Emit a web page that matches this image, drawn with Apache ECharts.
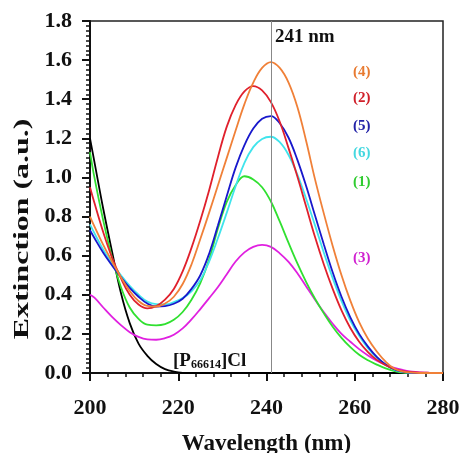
<!DOCTYPE html>
<html><head><meta charset="utf-8">
<script src="https://cdn.jsdelivr.net/npm/echarts@6/dist/echarts.min.js"></script>
<style>html,body{margin:0;padding:0;background:#fff}#c{width:461px;height:453px}</style>
</head><body><div id="c"></div>
<script>
const wavelengths = [200,201,203,205,207,209,211,213,215,217,219,221,223,225,227,229,231,233,235,237,239,241,243,245,247,249,251,253,255,257,259,261,263,265,267,269,271,273,275,277,279,280];
const ionicLiquid = [1.20,1.08,0.84,0.62,0.41,0.255,0.15,0.088,0.046,0.02,0.007,0.001,0,0,0,0,0,0,0,0,0,0,0,0,0,0,0,0,0,0,0,0,0,0,0,0,0,0,0,0,0,0];
const sample1 = [1.13,1.00,0.78,0.59,0.44,0.335,0.277,0.247,0.244,0.25,0.272,0.312,0.375,0.46,0.58,0.74,0.875,0.96,1.006,0.99,0.95,0.877,0.775,0.665,0.56,0.465,0.38,0.305,0.237,0.18,0.132,0.093,0.065,0.043,0.024,0.01,0.002,0,0,0,0,0];
const sample2 = [0.95,0.87,0.72,0.59,0.485,0.40,0.35,0.33,0.342,0.375,0.43,0.52,0.64,0.78,0.935,1.105,1.26,1.37,1.44,1.467,1.445,1.385,1.285,1.15,1.005,0.85,0.695,0.555,0.43,0.32,0.23,0.16,0.107,0.067,0.04,0.021,0.01,0.005,0.002,0.001,0,0];
const sample3 = [0.40,0.385,0.335,0.287,0.245,0.209,0.185,0.172,0.17,0.178,0.196,0.228,0.274,0.327,0.383,0.44,0.505,0.57,0.617,0.645,0.655,0.645,0.612,0.568,0.51,0.442,0.375,0.31,0.252,0.20,0.16,0.122,0.09,0.063,0.042,0.026,0.015,0.007,0.003,0.001,0,0];
const sample4 = [0.80,0.75,0.655,0.57,0.49,0.42,0.368,0.343,0.34,0.355,0.39,0.455,0.555,0.685,0.82,0.96,1.10,1.24,1.375,1.485,1.56,1.59,1.56,1.485,1.36,1.185,0.99,0.815,0.65,0.50,0.37,0.26,0.175,0.11,0.058,0.022,0.007,0.002,0,0,0,0];
const sample5 = [0.73,0.69,0.615,0.55,0.49,0.435,0.39,0.355,0.34,0.342,0.354,0.38,0.43,0.50,0.61,0.755,0.905,1.05,1.165,1.25,1.30,1.314,1.277,1.203,1.09,0.955,0.805,0.657,0.515,0.39,0.285,0.20,0.135,0.082,0.043,0.018,0.006,0.001,0,0,0,0];
const sample6 = [0.76,0.715,0.63,0.56,0.50,0.445,0.40,0.365,0.352,0.351,0.362,0.383,0.418,0.475,0.57,0.69,0.82,0.955,1.075,1.155,1.197,1.208,1.18,1.115,1.015,0.89,0.755,0.615,0.485,0.368,0.268,0.19,0.127,0.078,0.041,0.016,0.004,0,0,0,0,0];
const peakWavelength = 241;
const xTicks = {min:200, max:280, interval:20};
const yTicks = {min:0, max:1.8, interval:0.2};

const serif = '"Liberation Serif","Times New Roman",serif';
const pairs = arr => wavelengths.map((w,i)=>[w,arr[i]]);
const mk = (name, arr, color) => ({
  name, type:'line', data:pairs(arr), smooth:0.4, showSymbol:false, symbol:'none',
  lineStyle:{color, width:1.8}, itemStyle:{color}, z:3
});

const chart = echarts.init(document.getElementById('c'));
chart.setOption({
  animation:false,
  backgroundColor:'#fff',
  grid:{left:90,right:18,top:21,bottom:80,containLabel:false,outerBoundsMode:'none',
    show:true,borderColor:'#222',borderWidth:1.5,backgroundColor:'transparent'},
  xAxis:{type:'value',min:xTicks.min,max:xTicks.max,interval:xTicks.interval,
    name:'Wavelength (nm)',nameLocation:'middle',nameGap:60,
    nameTextStyle:{fontFamily:serif,fontWeight:'bold',fontSize:23,color:'#111'},
    axisLine:{lineStyle:{color:'#111',width:2}},
    axisTick:{show:true,inside:false,length:8,lineStyle:{color:'#111',width:2}},
    minorTick:{show:true,splitNumber:5,length:4,lineStyle:{color:'#111',width:1.5}},
    axisLabel:{fontFamily:serif,fontWeight:'bold',fontSize:22,color:'#111',margin:24},
    splitLine:{show:false}},
  yAxis:{type:'value',min:yTicks.min,max:yTicks.max,interval:yTicks.interval,
    axisLine:{show:true,lineStyle:{color:'#111',width:2}},
    axisTick:{show:true,inside:false,length:8,lineStyle:{color:'#111',width:2}},
    minorTick:{show:true,splitNumber:8,length:4,lineStyle:{color:'#111',width:1.5}},
    axisLabel:{fontFamily:serif,fontWeight:'bold',fontSize:22,color:'#111',margin:18,formatter:v=>v.toFixed(1)},
    splitLine:{show:false}},
  series:[
    {type:'line',data:[],markLine:{silent:true,symbol:'none',label:{show:false},
      lineStyle:{color:'#888',width:1,type:'solid'},data:[{xAxis:peakWavelength}]}},
    mk('[P66614]Cl', ionicLiquid, '#000000'),
    mk('(3)', sample3, '#E020E0'),
    mk('(1)', sample1, '#30E030'),
    mk('(6)', sample6, '#40E4EC'),
    mk('(5)', sample5, '#1818CC'),
    mk('(2)', sample2, '#E0202C'),
    mk('(4)', sample4, '#F08038')
  ]
});

const px = chart.convertToPixel({gridIndex:0},[peakWavelength,0])[0];
const lbl = (text, color, y) => ({type:'text', left:353, top:y-8,
  style:{text, fill:color, font:'bold 15px '+serif}});
chart.setOption({graphic:[
  {type:'text', x:22, y:229, rotation:Math.PI/2, scaleX:1.45,
    style:{text:'Extinction (a.u.)', fill:'#111', font:'bold 22px '+serif, align:'center', verticalAlign:'middle'}},
  {type:'text', left:px+4, top:28, style:{text:'241 nm', fill:'#111', font:'bold 19px '+serif}},
  lbl('(4)','#E87A30',73), lbl('(2)','#D0202A',99), lbl('(5)','#2222A8',127),
  lbl('(6)','#44D8E0',154), lbl('(1)','#30CC30',183), lbl('(3)','#D020D0',259),
  {type:'text', left:173, top:352, style:{
    text:'{a|[P}{s|66614}{a|]Cl}',
    rich:{a:{fontFamily:serif,fontWeight:'bold',fontSize:19,fill:'#111',color:'#111',verticalAlign:'bottom'},
          s:{fontFamily:serif,fontWeight:'bold',fontSize:12,fill:'#111',color:'#111',verticalAlign:'bottom'}}}}
]});
</script></body></html>
